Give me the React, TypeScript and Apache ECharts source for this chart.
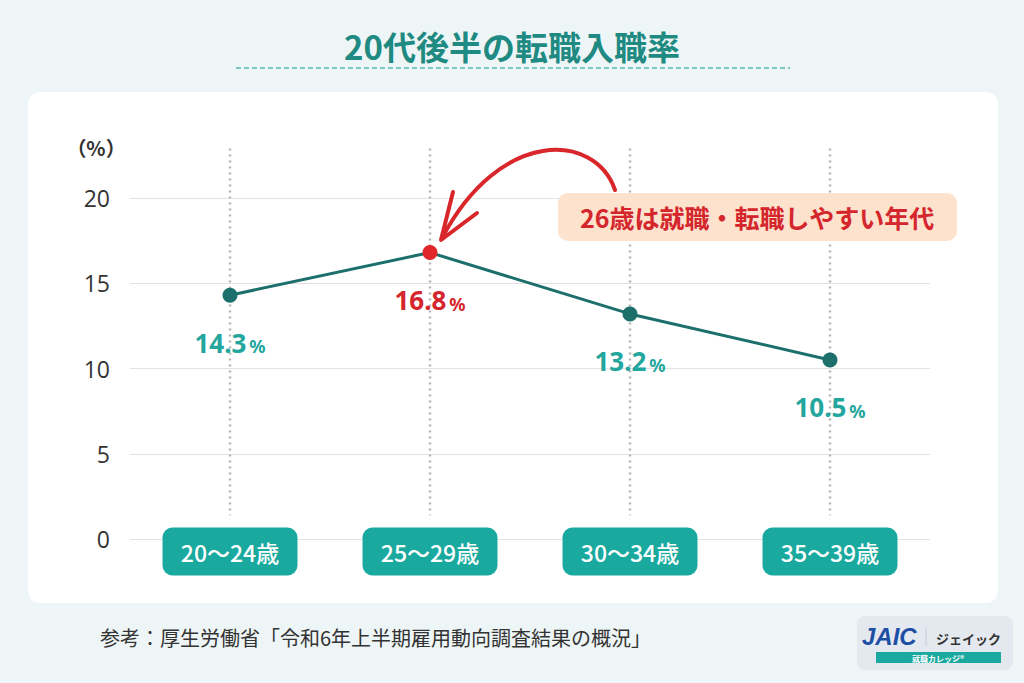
import React, { useEffect, useRef } from "react";
import * as echarts from "echarts";

// Age bands and the job-entry rate (%) for each
const categories = ["20〜24歳", "25〜29歳", "30〜34歳", "35〜39歳"];
const rates = [14.3, 16.8, 13.2, 10.5];
const highlightIndex = 1;
const yTicks = [0, 5, 10, 15, 20];

const TEAL_DARK = "#1c6f6b";
const TEAL = "#23a69e";
const RED = "#e0252b";

export default function App() {
  const ref = useRef<HTMLDivElement>(null);

  useEffect(() => {
    if (!ref.current) return;
    const chart = echarts.init(ref.current, null, { renderer: "svg" });

    const lineData = rates.map((v, i) => {
      const hot = i === highlightIndex;
      return {
        value: v,
        itemStyle: { color: hot ? RED : TEAL_DARK },
        label: {
          formatter: "{v|" + v.toFixed(1) + "}{p|%}",
          rich: {
            v: { fontSize: 26, fontWeight: "bold", color: hot ? "#d4262c" : TEAL, fontFamily: "Noto Sans" },
            p: { fontSize: 18, fontWeight: "bold", color: hot ? "#d4262c" : TEAL, fontFamily: "Noto Sans", padding: [7, 0, 0, 3] },
          },
        },
      };
    });

    const option: any = {
      animation: false,
      backgroundColor: "transparent",
      grid: { left: 130, right: 94, top: 198, bottom: 144 },
      xAxis: {
        type: "category",
        data: categories,
        boundaryGap: true,
        axisLine: { show: false },
        axisTick: { show: false },
        splitLine: { show: false },
        axisLabel: {
          margin: 0,
          verticalAlign: "top",
          formatter: (v: string) => "{b|" + v + "}",
          rich: {
            b: {
              backgroundColor: "#1aa99e",
              color: "#ffffff",
              borderRadius: 10,
              fontSize: 23,
              fontWeight: 500,
              fontFamily: "Noto Sans CJK JP",
              width: 107,
              align: "center",
              lineHeight: 25,
              padding: [13, 14, 12, 14],
            },
          },
        },
      },
      yAxis: {
        type: "value",
        min: 0,
        max: 20,
        interval: 5,
        axisLine: { show: false },
        axisTick: { show: false },
        axisLabel: {
          margin: 20,
          fontSize: 23,
          color: "#333333",
          fontFamily: "Open Sans",
          formatter: (v: number) => (yTicks.includes(v) ? String(v) : ""),
        },
        splitLine: {
          show: true,
          lineStyle: { color: "#e2e2e2", width: 1 },
        },
      },
      series: [
        {
          // vertical dotted guides at each age band
          type: "custom",
          data: categories.map((_, i) => [i]),
          silent: true,
          z: 1,
          renderItem: (params: any, api: any) => {
            const i = api.value(0);
            const top = api.coord([i, 22.9]);
            const bottom = api.coord([i, 1.4]);
            return {
              type: "line",
              shape: { x1: top[0], y1: top[1], x2: bottom[0], y2: bottom[1] },
              style: { stroke: "#b5b5b5", lineWidth: 2.5, lineDash: [2, 4] },
            };
          },
        },
        {
          type: "line",
          data: lineData,
          z: 3,
          symbol: "circle",
          symbolSize: 15,
          lineStyle: { color: TEAL_DARK, width: 3 },
          label: { show: true, position: "bottom", distance: 27 },
        },
      ],
      graphic: [
        // page card
        {
          type: "rect",
          z: -10,
          shape: { x: 28, y: 92, width: 970, height: 511, r: 12 },
          style: { fill: "#ffffff" },
        },
        // title
        {
          type: "text",
          x: 512,
          y: 46,
          style: {
            text: "20代後半の転職入職率",
            fill: "#1e8a82",
            fontSize: 33,
            fontWeight: "bold",
            fontFamily: "Noto Sans CJK JP",
            align: "center",
            verticalAlign: "middle",
          },
        },
        {
          type: "line",
          shape: { x1: 236, y1: 68, x2: 790, y2: 68 },
          style: { stroke: "#58b8b0", lineWidth: 1.5, lineDash: [5, 3] },
        },
        // unit
        {
          type: "text",
          x: 96,
          y: 147,
          style: {
            text: "（%）",
            fill: "#333333",
            fontSize: 20,
            fontWeight: "bold",
            fontFamily: "Noto Sans CJK JP",
            align: "center",
            verticalAlign: "middle",
          },
        },
        // annotation callout
        {
          type: "rect",
          z: 5,
          shape: { x: 558, y: 193, width: 399, height: 48, r: 10 },
          style: { fill: "#fde2cd" },
        },
        {
          type: "text",
          z: 6,
          x: 757,
          y: 217,
          style: {
            text: "26歳は就職・転職しやすい年代",
            fill: "#d4262c",
            fontSize: 25,
            fontWeight: "bold",
            fontFamily: "Noto Sans CJK JP",
            align: "center",
            verticalAlign: "middle",
          },
        },
        {
          type: "bezierCurve",
          z: 4,
          shape: { x1: 615, y1: 190, cpx1: 595, cpy1: 132, cpx2: 500, cpy2: 128, x2: 442, y2: 238 },
          style: { stroke: "#d9262b", lineWidth: 4, fill: null, lineCap: "round" },
        },
        {
          type: "polyline",
          z: 4,
          shape: { points: [[453, 192], [441, 240], [477, 213]] },
          style: { stroke: "#d9262b", lineWidth: 4, fill: null, lineCap: "round", lineJoin: "round" },
        },
        // source note
        {
          type: "text",
          x: 100,
          y: 637,
          style: {
            text: "参考：厚生労働省「令和6年上半期雇用動向調査結果の概況」",
            fill: "#333333",
            fontSize: 20,
            fontFamily: "Noto Sans CJK JP",
            verticalAlign: "middle",
          },
        },
        // brand badge
        {
          type: "rect",
          shape: { x: 857, y: 616, width: 156, height: 54, r: 8 },
          style: { fill: "#e4e9ef" },
        },
        {
          type: "text",
          x: 862,
          y: 636,
          style: {
            text: "JAIC",
            fill: "#1f4fa5",
            fontSize: 24,
            fontWeight: "bold",
            fontStyle: "italic",
            fontFamily: "Liberation Sans",
            verticalAlign: "middle",
          },
        },
        {
          type: "line",
          shape: { x1: 926, y1: 628, x2: 926, y2: 646 },
          style: { stroke: "#c5ccd5", lineWidth: 1 },
        },
        {
          type: "text",
          x: 936,
          y: 638,
          style: {
            text: "ジェイック",
            fill: "#333333",
            fontSize: 13,
            fontWeight: "bold",
            fontFamily: "Noto Sans CJK JP",
            verticalAlign: "middle",
          },
        },
        {
          type: "rect",
          shape: { x: 876, y: 652, width: 125, height: 11 },
          style: { fill: "#1aa99e" },
        },
        {
          type: "text",
          x: 938,
          y: 658,
          style: {
            text: "就職カレッジ®",
            fill: "#ffffff",
            fontSize: 8,
            fontWeight: "bold",
            fontFamily: "Noto Sans CJK JP",
            align: "center",
            verticalAlign: "middle",
          },
        },
      ],
    };

    chart.setOption(option);
    return () => chart.dispose();
  }, []);

  return (
    <div
      ref={ref}
      style={{
        position: "fixed",
        left: 0,
        top: 0,
        width: 1024,
        height: 683,
        background: "#eef5f6",
      }}
    />
  );
}
